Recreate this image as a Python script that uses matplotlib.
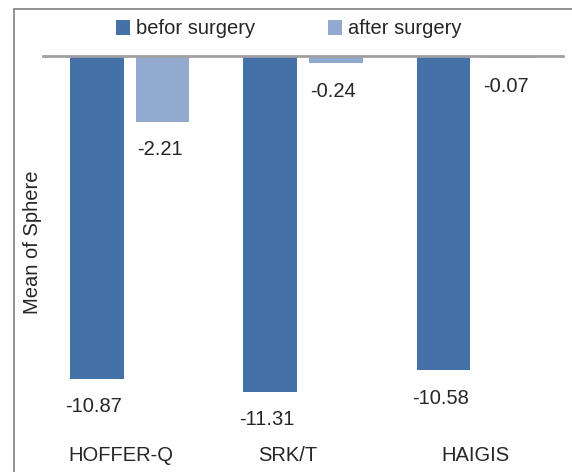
import numpy as np
import matplotlib
matplotlib.use("Agg")
import matplotlib.pyplot as plt
from matplotlib.patches import Rectangle
from matplotlib.transforms import ScaledTranslation

formulas = ["HOFFER-Q", "SRK/T", "HAIGIS"]
before = [-10.87, -11.31, -10.58]
after = [-2.21, -0.24, -0.07]
series_names = ["befor surgery", "after surgery"]

plt.rcParams["font.family"] = ["Liberation Sans", "DejaVu Sans"]
plt.rcParams["font.size"] = 14.5
txt = "#262626"

fig = plt.figure(figsize=(5.72, 4.72), dpi=100)
ax = fig.add_axes([43 / 572, 1 - 427 / 472, 520 / 572, 371 / 472])

x = np.arange(len(formulas))
w, off = 0.31, 0.19
b1 = ax.bar(x - off, before, w, color="#4472a8", label=series_names[0])
b2 = ax.bar(x + off, after, w, color="#93aacf", label=series_names[1])

for bars in (b1, b2):
    for r in bars:
        v = r.get_height()
        ax.annotate(f"{v:.2f}", (r.get_x() + r.get_width() / 2, v),
                    xytext=(-3, -28), textcoords="offset pixels",
                    ha="center", va="center", color=txt)

ax.set_xlim(-0.5, 2.5)
ax.set_ylim(-12.5, 0)
ax.set_yticks([])
ax.set_xticks(x)
ax.set_xticklabels(formulas, color=txt)
ax.tick_params(axis="x", length=0, pad=14)
for lbl, dx in zip(ax.get_xticklabels(), [-9, -15, -1]):
    lbl.set_transform(lbl.get_transform()
                      + ScaledTranslation(dx / 100, 0, fig.dpi_scale_trans))
for s in ("left", "right", "bottom"):
    ax.spines[s].set_visible(False)
ax.spines["top"].set_color("#a0a0a0")
ax.spines["top"].set_linewidth(2)

fig.text(33 / 572, 1 - 242 / 472, "Mean of Sphere", rotation=90,
         ha="center", va="center", color=txt)

fig.legend(loc="center", bbox_to_anchor=(289 / 572, 1 - 29 / 472), ncol=2,
           frameon=False, handlelength=0.7, handleheight=0.7,
           handletextpad=0.3, columnspacing=3.6, labelcolor=txt,
           borderaxespad=0, borderpad=0)

fig.add_artist(Rectangle((13.5 / 572, -0.1), 2, 1.1 - 9.5 / 472,
                         transform=fig.transFigure, fill=False,
                         ec="#7f7f7f", lw=1.2))

fig.savefig("out.png", dpi=100)
